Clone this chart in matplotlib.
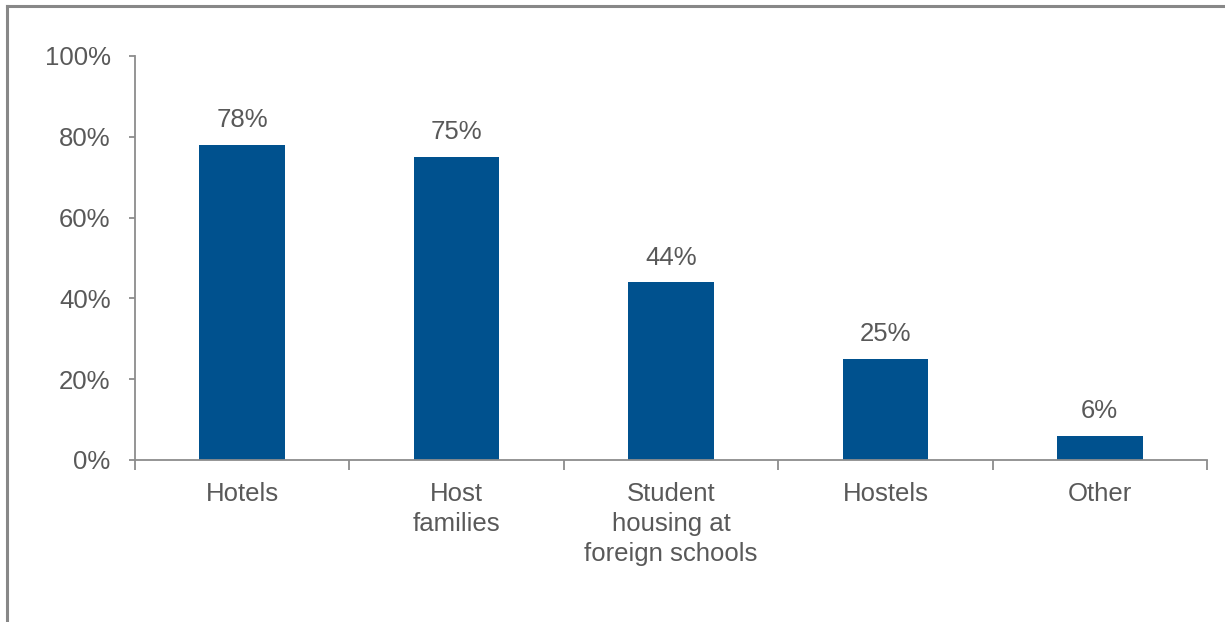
import matplotlib.pyplot as plt
import numpy as np
from matplotlib.lines import Line2D

categories = ['Hotels', 'Host\nfamilies', 'Student\nhousing at\nforeign schools', 'Hostels', 'Other']
shares = [78, 75, 44, 25, 6]
y_ticks = [0, 20, 40, 60, 80, 100]
y_tick_labels = ['0%', '20%', '40%', '60%', '80%', '100%']

bar_color = '#00518E'
axis_color = '#8C8C8C'
text_color = '#595959'

plt.rcParams['font.family'] = ['Liberation Sans', 'DejaVu Sans']
plt.rcParams['font.size'] = 18.5

fig = plt.figure(figsize=(12.25, 6.22), dpi=100)
ax = fig.add_axes([0.1102, 0.2605, 0.8751, 0.6495])

x = np.arange(len(categories))
ax.bar(x, shares, width=0.4, color=bar_color, zorder=2)

for xi, v in zip(x, shares):
    ax.annotate(f'{v}%', (xi, v), xytext=(0, 9), textcoords='offset points',
                ha='center', va='bottom', color=text_color)

ax.set_xlim(-0.5, len(categories) - 0.5)
ax.set_ylim(0, 100)

ax.set_yticks(y_ticks)
ax.set_yticklabels(y_tick_labels)
ax.tick_params(axis='y', direction='out', length=4.5, width=1.3, color=axis_color,
               labelcolor=text_color, pad=13)

# category labels on major ticks, boundary marks on minor ticks
ax.set_xticks(x)
ax.set_xticklabels(categories, linespacing=1.3)
ax.set_xticks(np.arange(len(categories) + 1) - 0.5, minor=True)
ax.tick_params(axis='x', which='major', length=0, labelcolor=text_color, pad=16)
ax.tick_params(axis='x', which='minor', direction='out', length=7, width=1.3, color=axis_color)

for side in ['top', 'right']:
    ax.spines[side].set_visible(False)
for side in ['left', 'bottom']:
    ax.spines[side].set_color(axis_color)
    ax.spines[side].set_linewidth(1.3)

# outer frame, open at the bottom and right
fig.add_artist(Line2D([7 / 1225, 7 / 1225], [0, 1 - 6 / 622], color='#888888', lw=2.2,
                      transform=fig.transFigure))
fig.add_artist(Line2D([7 / 1225, 1], [1 - 6 / 622, 1 - 6 / 622], color='#888888', lw=2.2,
                      transform=fig.transFigure))

fig.savefig('out.png', dpi=100)
